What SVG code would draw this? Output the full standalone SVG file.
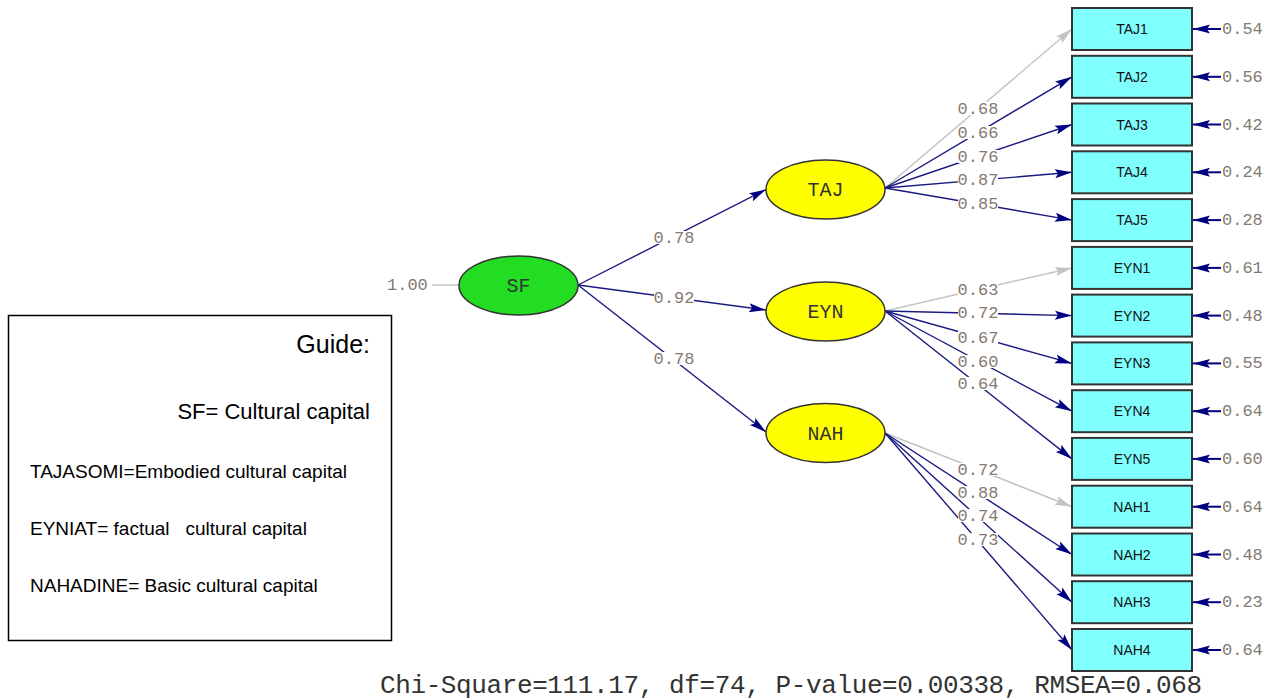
<svg xmlns="http://www.w3.org/2000/svg" width="1272" height="700" viewBox="0 0 1272 700">
<style>
.lat{stroke:#333;stroke-width:1.5}
.box{fill:#80ffff;stroke:#333;stroke-width:2}
.nt{font-family:"Liberation Mono",monospace;font-size:20px;fill:#333;text-anchor:middle}
.bt{font-family:"Liberation Sans",Arial,sans-serif;font-size:14px;fill:#111;text-anchor:middle}
.p{stroke:#1a1a80;stroke-width:1.4;fill:none}
.e{stroke:#000080;stroke-width:2;fill:none}
.g{stroke:#c4c4c4;stroke-width:1.5;fill:none}
.lb{font-family:"Liberation Mono",monospace;font-size:17px;fill:#857a72;text-anchor:middle}
.bg{fill:#fff}
.el{font-family:"Liberation Mono",monospace;font-size:17px;fill:#857a72}
.gd{font-family:"Liberation Sans",Arial,sans-serif;fill:#000}
</style>
<defs>
<marker id="an" markerUnits="userSpaceOnUse" markerWidth="20" markerHeight="12" refX="17" refY="5" orient="auto">
<path d="M0,0.5 L17,5 L0,9.5 L3,5 z" fill="#000080"/>
</marker>
<marker id="ag" markerUnits="userSpaceOnUse" markerWidth="20" markerHeight="12" refX="17" refY="5" orient="auto">
<path d="M0,0.5 L17,5 L0,9.5 L3,5 z" fill="#c4c4c4"/>
</marker>
</defs>

<g id="connectors">
<line class="g" x1="432" y1="285" x2="459" y2="285"/>
<line class="p" x1="578" y1="285" x2="766" y2="189.5" marker-end="url(#an)"/>
<line class="p" x1="578" y1="285" x2="766" y2="310" marker-end="url(#an)"/>
<line class="p" x1="578" y1="285" x2="766" y2="432" marker-end="url(#an)"/>
<line class="g" x1="885" y1="188" x2="1072" y2="29" marker-end="url(#ag)"/>
<line class="p" x1="885" y1="188" x2="1072" y2="76.8" marker-end="url(#an)"/>
<line class="p" x1="885" y1="188" x2="1072" y2="124.5" marker-end="url(#an)"/>
<line class="p" x1="885" y1="188" x2="1072" y2="172.3" marker-end="url(#an)"/>
<line class="p" x1="885" y1="188" x2="1072" y2="220.1" marker-end="url(#an)"/>
<line class="g" x1="885" y1="311" x2="1072" y2="267.9" marker-end="url(#ag)"/>
<line class="p" x1="885" y1="311" x2="1072" y2="315.6" marker-end="url(#an)"/>
<line class="p" x1="885" y1="311" x2="1072" y2="363.4" marker-end="url(#an)"/>
<line class="p" x1="885" y1="311" x2="1072" y2="411.2" marker-end="url(#an)"/>
<line class="p" x1="885" y1="311" x2="1072" y2="458.9" marker-end="url(#an)"/>
<line class="g" x1="885" y1="433" x2="1072" y2="506.7" marker-end="url(#ag)"/>
<line class="p" x1="885" y1="433" x2="1072" y2="554.5" marker-end="url(#an)"/>
<line class="p" x1="885" y1="433" x2="1072" y2="602.2" marker-end="url(#an)"/>
<line class="p" x1="885" y1="433" x2="1072" y2="650" marker-end="url(#an)"/>
<line class="e" x1="1221" y1="29" x2="1193" y2="29" marker-end="url(#an)"/>
<line class="e" x1="1221" y1="76.8" x2="1193" y2="76.8" marker-end="url(#an)"/>
<line class="e" x1="1221" y1="124.5" x2="1193" y2="124.5" marker-end="url(#an)"/>
<line class="e" x1="1221" y1="172.3" x2="1193" y2="172.3" marker-end="url(#an)"/>
<line class="e" x1="1221" y1="220.1" x2="1193" y2="220.1" marker-end="url(#an)"/>
<line class="e" x1="1221" y1="267.9" x2="1193" y2="267.9" marker-end="url(#an)"/>
<line class="e" x1="1221" y1="315.6" x2="1193" y2="315.6" marker-end="url(#an)"/>
<line class="e" x1="1221" y1="363.4" x2="1193" y2="363.4" marker-end="url(#an)"/>
<line class="e" x1="1221" y1="411.2" x2="1193" y2="411.2" marker-end="url(#an)"/>
<line class="e" x1="1221" y1="458.9" x2="1193" y2="458.9" marker-end="url(#an)"/>
<line class="e" x1="1221" y1="506.7" x2="1193" y2="506.7" marker-end="url(#an)"/>
<line class="e" x1="1221" y1="554.5" x2="1193" y2="554.5" marker-end="url(#an)"/>
<line class="e" x1="1221" y1="602.2" x2="1193" y2="602.2" marker-end="url(#an)"/>
<line class="e" x1="1221" y1="650" x2="1193" y2="650" marker-end="url(#an)"/>
</g>

<g id="path-labels">
<text class="el" x="387" y="290">1.00</text>
<rect class="bg" x="654" y="231" width="40" height="13"/><text class="lb" x="674" y="243">0.78</text>
<rect class="bg" x="654" y="291" width="40" height="13"/><text class="lb" x="674" y="303">0.92</text>
<rect class="bg" x="654" y="352" width="40" height="13"/><text class="lb" x="674" y="364">0.78</text>
<rect class="bg" x="958" y="102" width="40" height="13"/><text class="lb" x="978" y="114">0.68</text>
<rect class="bg" x="958" y="126" width="40" height="13"/><text class="lb" x="978" y="138">0.66</text>
<rect class="bg" x="958" y="150" width="40" height="13"/><text class="lb" x="978" y="162">0.76</text>
<rect class="bg" x="958" y="173" width="40" height="13"/><text class="lb" x="978" y="185">0.87</text>
<rect class="bg" x="958" y="197" width="40" height="13"/><text class="lb" x="978" y="209">0.85</text>
<rect class="bg" x="958" y="283" width="40" height="13"/><text class="lb" x="978" y="295">0.63</text>
<rect class="bg" x="958" y="306" width="40" height="13"/><text class="lb" x="978" y="318">0.72</text>
<rect class="bg" x="958" y="331" width="40" height="13"/><text class="lb" x="978" y="343">0.67</text>
<rect class="bg" x="958" y="355" width="40" height="13"/><text class="lb" x="978" y="367">0.60</text>
<rect class="bg" x="958" y="377" width="40" height="13"/><text class="lb" x="978" y="389">0.64</text>
<rect class="bg" x="958" y="463" width="40" height="13"/><text class="lb" x="978" y="475">0.72</text>
<rect class="bg" x="958" y="486" width="40" height="13"/><text class="lb" x="978" y="498">0.88</text>
<rect class="bg" x="958" y="509" width="40" height="13"/><text class="lb" x="978" y="521">0.74</text>
<rect class="bg" x="958" y="533" width="40" height="13"/><text class="lb" x="978" y="545">0.73</text>
</g>

<g id="SF"><ellipse class="lat" cx="518.5" cy="285.5" rx="59.5" ry="29.5" fill="#22dd22"/><text class="nt" x="518.5" y="292">SF</text></g>
<g id="TAJ"><ellipse class="lat" cx="825.5" cy="189.5" rx="59.5" ry="29.5" fill="#ffff00"/><text class="nt" x="825.5" y="196">TAJ</text></g>
<g id="EYN"><ellipse class="lat" cx="825.5" cy="311.5" rx="59.5" ry="29.5" fill="#ffff00"/><text class="nt" x="825.5" y="318">EYN</text></g>
<g id="NAH"><ellipse class="lat" cx="825.5" cy="433" rx="59.5" ry="29.5" fill="#ffff00"/><text class="nt" x="825.5" y="439.5">NAH</text></g>

<g id="TAJ1"><rect class="box" x="1072" y="8" width="120" height="42"/><text class="bt" x="1132" y="34">TAJ1</text><text class="el" x="1222" y="34">0.54</text></g>
<g id="TAJ2"><rect class="box" x="1072" y="55.8" width="120" height="42"/><text class="bt" x="1132" y="81.8">TAJ2</text><text class="el" x="1222" y="81.8">0.56</text></g>
<g id="TAJ3"><rect class="box" x="1072" y="103.5" width="120" height="42"/><text class="bt" x="1132" y="129.5">TAJ3</text><text class="el" x="1222" y="129.5">0.42</text></g>
<g id="TAJ4"><rect class="box" x="1072" y="151.3" width="120" height="42"/><text class="bt" x="1132" y="177.3">TAJ4</text><text class="el" x="1222" y="177.3">0.24</text></g>
<g id="TAJ5"><rect class="box" x="1072" y="199.1" width="120" height="42"/><text class="bt" x="1132" y="225.1">TAJ5</text><text class="el" x="1222" y="225.1">0.28</text></g>
<g id="EYN1"><rect class="box" x="1072" y="246.9" width="120" height="42"/><text class="bt" x="1132" y="272.9">EYN1</text><text class="el" x="1222" y="272.9">0.61</text></g>
<g id="EYN2"><rect class="box" x="1072" y="294.6" width="120" height="42"/><text class="bt" x="1132" y="320.6">EYN2</text><text class="el" x="1222" y="320.6">0.48</text></g>
<g id="EYN3"><rect class="box" x="1072" y="342.4" width="120" height="42"/><text class="bt" x="1132" y="368.4">EYN3</text><text class="el" x="1222" y="368.4">0.55</text></g>
<g id="EYN4"><rect class="box" x="1072" y="390.2" width="120" height="42"/><text class="bt" x="1132" y="416.2">EYN4</text><text class="el" x="1222" y="416.2">0.64</text></g>
<g id="EYN5"><rect class="box" x="1072" y="437.9" width="120" height="42"/><text class="bt" x="1132" y="463.9">EYN5</text><text class="el" x="1222" y="463.9">0.60</text></g>
<g id="NAH1"><rect class="box" x="1072" y="485.7" width="120" height="42"/><text class="bt" x="1132" y="511.7">NAH1</text><text class="el" x="1222" y="511.7">0.64</text></g>
<g id="NAH2"><rect class="box" x="1072" y="533.5" width="120" height="42"/><text class="bt" x="1132" y="559.5">NAH2</text><text class="el" x="1222" y="559.5">0.48</text></g>
<g id="NAH3"><rect class="box" x="1072" y="581.2" width="120" height="42"/><text class="bt" x="1132" y="607.2">NAH3</text><text class="el" x="1222" y="607.2">0.23</text></g>
<g id="NAH4"><rect class="box" x="1072" y="629" width="120" height="42"/><text class="bt" x="1132" y="655">NAH4</text><text class="el" x="1222" y="655">0.64</text></g>

<g id="guide">
<rect x="8.5" y="315.5" width="383" height="325" fill="#fff" stroke="#000" stroke-width="1.5"/>
<text class="gd" x="370" y="353" font-size="25" text-anchor="end">Guide:</text>
<text class="gd" x="370" y="419" font-size="22" text-anchor="end">SF= Cultural capital</text>
<text class="gd" x="30" y="478" font-size="19">TAJASOMI=Embodied cultural capital</text>
<text class="gd" x="30" y="535" font-size="19" xml:space="preserve">EYNIAT= factual   cultural capital</text>
<text class="gd" x="30" y="592" font-size="19">NAHADINE= Basic cultural capital</text>
</g>

<g id="fit">
<text x="380" y="693" font-family="Liberation Mono, monospace" font-size="26" fill="#333" textLength="822" lengthAdjust="spacing">Chi-Square=111.17, df=74, P-value=0.00338, RMSEA=0.068</text>
</g>
</svg>
